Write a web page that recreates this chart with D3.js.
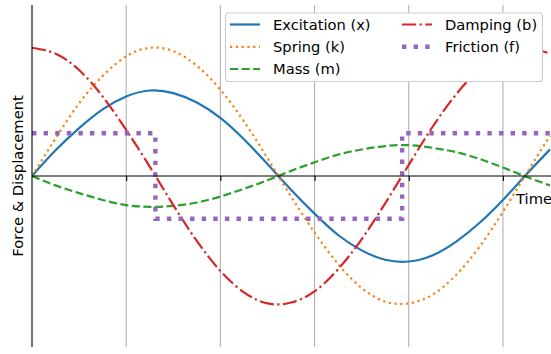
<!DOCTYPE html>
<html><head><meta charset="utf-8">
<script src="https://cdn.jsdelivr.net/npm/d3@7"></script>
<style>body{margin:0;background:#fff}svg{display:block;font-family:"DejaVu Sans",sans-serif}</style>
</head><body><svg id="c" width="551" height="354"></svg>
<script>
const times = [0,0.25,0.5,0.75,1,1.25,1.5,1.75,2,2.25,2.5,2.75,3,3.25,3.5,3.75,4,4.25,4.5,4.75,5,5.25,5.5];
const excitation = [0,0.30,0.56,0.78,0.93,1.00,0.97,0.86,0.68,0.43,0.14,-0.16,-0.44,-0.69,-0.87,-0.98,-1.00,-0.93,-0.77,-0.55,-0.28,0.02,0.31];
const spring = [0,0.44,0.85,1.17,1.40,1.50,1.46,1.29,1.01,0.64,0.21,-0.24,-0.66,-1.03,-1.31,-1.47,-1.49,-1.39,-1.16,-0.83,-0.42,0.03,0.47];
const mass = [0,-0.11,-0.20,-0.28,-0.34,-0.36,-0.35,-0.31,-0.24,-0.15,-0.05,0.06,0.16,0.25,0.31,0.35,0.36,0.33,0.28,0.20,0.10,-0.01,-0.11];
const damping = [1.50,1.43,1.24,0.93,0.54,0.11,-0.34,-0.76,-1.11,-1.36,-1.49,-1.48,-1.35,-1.09,-0.74,-0.32,0.13,0.57,0.95,1.25,1.44,1.50,1.43];
const frictionTimes = [0,1.31,3.93,5.5];
const friction = [0.5,-0.5,0.5,0.5];
const xTicks = [1,2,3,4,5];
const labels = ["Excitation (x)","Spring (k)","Mass (m)","Damping (b)","Friction (f)"];
const colors = ["#1f77b4","#ff7f0e","#2ca02c","#d62728","#9467bd"];

const svg = d3.select("#c");
const x = d3.scaleLinear().domain([0,5.5]).range([32,550]);
const y = d3.scaleLinear().domain([-2,2]).range([347,5]);

// grid
svg.append("g").selectAll("line").data(xTicks).join("line")
  .attr("x1",d=>x(d)).attr("x2",d=>x(d)).attr("y1",y(2)).attr("y2",y(-2))
  .attr("stroke","#b0b0b0").attr("stroke-width",1.1);

const lw = 2.2;
const styles = [
  {dash:null, w:lw, curve:d3.curveNatural},
  {dash:[2.2,3.6], w:lw, curve:d3.curveNatural},
  {dash:[8.1,3.5], w:lw, curve:d3.curveNatural},
  {dash:[14.1,3.5,2.2,3.5], w:lw, curve:d3.curveNatural},
  {dash:[4.4,7.2], w:4.4, curve:d3.curveStepAfter}
];
const series = [
  times.map((t,i)=>[t,excitation[i]]),
  times.map((t,i)=>[t,spring[i]]),
  times.map((t,i)=>[t,mass[i]]),
  times.map((t,i)=>[t,damping[i]]),
  frictionTimes.map((t,i)=>[t,friction[i]])
];
const clip = svg.append("clipPath").attr("id","cp").append("rect")
  .attr("x",x(0)).attr("y",y(2)).attr("width",551-x(0)).attr("height",y(-2)-y(2));
const lg = svg.append("g").attr("clip-path","url(#cp)");
series.forEach((s,i)=>{
  const st = styles[i];
  lg.append("path").datum(s)
    .attr("d", d3.line().x(d=>x(d[0])).y(d=>y(d[1])).curve(st.curve))
    .attr("fill","none").attr("stroke",colors[i]).attr("stroke-width",st.w)
    .attr("stroke-dasharray", st.dash ? st.dash.join(",") : null);
});

// spines
const xAxis = d3.axisBottom(x).tickValues(xTicks).tickSize(5).tickFormat("");
const xg = svg.append("g").attr("transform",`translate(0,${y(0)})`).call(xAxis);
xg.select(".domain").attr("d",`M${x(0)},0H551`).attr("stroke","#000").attr("stroke-width",1.1);
xg.selectAll(".tick line").attr("stroke","#000").attr("stroke-width",1.1);
svg.append("line").attr("x1",x(0)).attr("x2",x(0)).attr("y1",y(2)).attr("y2",y(-2))
  .attr("stroke","#000").attr("stroke-width",1.1);

svg.append("text").attr("x",552).attr("y",204).attr("text-anchor","end")
  .attr("font-size",14.7).attr("fill","#000").text("Time");
svg.append("text").attr("transform","translate(23,176) rotate(-90)").attr("text-anchor","middle")
  .attr("font-size",14.7).attr("fill","#000").text("Force & Displacement");

// legend
const leg = svg.append("g");
leg.append("rect").attr("x",225.5).attr("y",13).attr("width",317).attr("height",68.5)
  .attr("rx",3).attr("fill","#fff").attr("stroke","#cccccc").attr("stroke-width",1.1);
const pos = [[230,24.5],[230,46.8],[230,69],[402,24.5],[402,46.8]];
labels.forEach((lab,i)=>{
  const [lx,ly] = pos[i];
  const st = styles[i];
  leg.append("line").attr("x1",lx).attr("x2",lx+30).attr("y1",ly).attr("y2",ly)
    .attr("stroke",colors[i]).attr("stroke-width",st.w)
    .attr("stroke-dasharray", st.dash ? st.dash.join(",") : null);
  leg.append("text").attr("x",lx+43).attr("y",ly).attr("dy","0.36em")
    .attr("font-size",14.7).attr("fill","#000").text(lab);
});
</script></body></html>
